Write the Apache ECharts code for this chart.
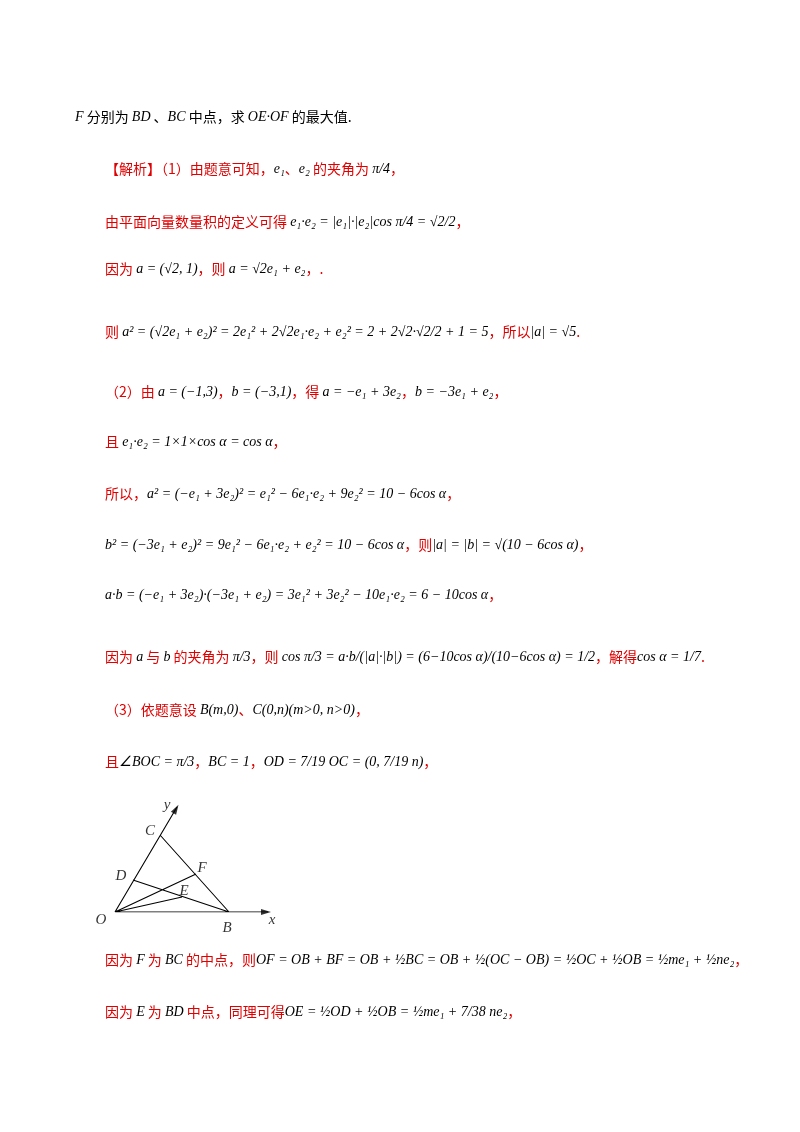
<!DOCTYPE html>
<html><head><meta charset="utf-8">
<script src="https://cdn.jsdelivr.net/npm/echarts@6/dist/echarts.min.js"></script>
<style>html,body{margin:0;background:#fff}#c{width:800px;height:1132px}</style>
</head><body><div id="c"></div>
<script>
// Geometry figure points (pixel-like units relative to O, y up)
const pointNames = ['O','B','C','D','E','F'];
const pointX = [0, 114, 45, 18, 67, 81];
const pointY = [0, 0, 77, 32, 15, 38];
const segments = [['C','B'],['D','B'],['O','F'],['O','E']];
const axisTip = {x:[153,0], y:[62,105]};

const lines = [
 [75,120,"{m|F}{r| 分别为 }{m|BD}{r| 、}{m|BC}{r| 中点，求 }{m|OE·OF}{r| 的最大值.}", true],
 [105,172,"{r|【解析】（1）由题意可知，}{m|e₁}{r|、}{m|e₂}{r| 的夹角为 }{m|π/4}{r|，}"],
 [105,225,"{r|由平面向量数量积的定义可得 }{m|e₁·e₂ = |e₁|·|e₂|cos π/4 = √2/2}{r|，}"],
 [105,272,"{r|因为 }{m|a = (√2, 1)}{r|，则 }{m|a = √2e₁ + e₂}{r|，.}"],
 [105,335,"{r|则 }{m|a² = (√2e₁ + e₂)² = 2e₁² + 2√2e₁·e₂ + e₂² = 2 + 2√2·√2/2 + 1 = 5}{r|，所以}{m||a| = √5}{r|.}"],
 [105,395,"{r|（2）由 }{m|a = (−1,3)}{r|，}{m|b = (−3,1)}{r|，得 }{m|a = −e₁ + 3e₂}{r|，}{m|b = −3e₁ + e₂}{r|，}"],
 [105,445,"{r|且 }{m|e₁·e₂ = 1×1×cos α = cos α}{r|，}"],
 [105,497,"{r|所以，}{m|a² = (−e₁ + 3e₂)² = e₁² − 6e₁·e₂ + 9e₂² = 10 − 6cos α}{r|，}"],
 [105,548,"{m|b² = (−3e₁ + e₂)² = 9e₁² − 6e₁·e₂ + e₂² = 10 − 6cos α}{r|，则}{m||a| = |b| = √(10 − 6cos α)}{r|，}"],
 [105,598,"{m|a·b = (−e₁ + 3e₂)·(−3e₁ + e₂) = 3e₁² + 3e₂² − 10e₁·e₂ = 6 − 10cos α}{r|，}"],
 [105,660,"{r|因为 }{m|a}{r| 与 }{m|b}{r| 的夹角为 }{m|π/3}{r|，则 }{m|cos π/3 = a·b/(|a|·|b|) = (6−10cos α)/(10−6cos α) = 1/2}{r|，解得}{m|cos α = 1/7}{r|.}"],
 [105,713,"{r|（3）依题意设 }{m|B(m,0)}{r|、}{m|C(0,n)(m>0, n>0)}{r|，}"],
 [105,765,"{r|且}{m|∠BOC = π/3}{r|，}{m|BC = 1}{r|，}{m|OD = 7/19 OC = (0, 7/19 n)}{r|，}"],
 [105,963,"{r|因为 }{m|F}{r| 为 }{m|BC}{r| 的中点，则}{m|OF = OB + BF = OB + ½BC = OB + ½(OC − OB) = ½OC + ½OB = ½me₁ + ½ne₂}{r|，}"],
 [105,1015,"{r|因为 }{m|E}{r| 为 }{m|BD}{r| 中点，同理可得}{m|OE = ½OD + ½OB = ½me₁ + 7/38 ne₂}{r|，}"]
];

const idx = n => pointNames.indexOf(n);
const segData = [];
segments.forEach(s => {
  segData.push([pointX[idx(s[0])], pointY[idx(s[0])]]);
  segData.push([pointX[idx(s[1])], pointY[idx(s[1])]]);
  segData.push(null);
});
segData.push([0,0],[axisTip.x[0],axisTip.x[1]],null,[0,0],[axisTip.y[0],axisTip.y[1]]);

const labelOff = {O:[-14,8],B:[-2,16],C:[-10,-4],D:[-12,-4],E:[2,-6],F:[6,-6]};

const chart = echarts.init(document.getElementById('c'));
chart.setOption({
  backgroundColor:'#fff',
  animation:false,
  grid:{left:115, width:160, top:802, height:110},
  xAxis:{type:'value', min:0, max:160, show:false},
  yAxis:{type:'value', min:0, max:110, show:false},
  series:[
    {type:'line', data:segData, connectNulls:false, symbol:'none',
     lineStyle:{color:'#000', width:1.1}},
    {type:'scatter', symbolSize:0, data:pointNames.map((n,i)=>({value:[pointX[i],pointY[i]], name:n})),
     label:{show:true, formatter:p=>p.name, fontFamily:'Liberation Serif', fontStyle:'italic', fontSize:15, color:'#000',
       position:'inside'},
     labelLayout:p=>{const o=labelOff[pointNames[p.dataIndex]];return {dx:o[0],dy:o[1]};}},
    {type:'scatter', symbolSize:0, data:[{value:[axisTip.x[0],axisTip.x[1]],name:'x'},{value:[axisTip.y[0],axisTip.y[1]],name:'y'}],
     label:{show:true, formatter:p=>p.name, fontFamily:'Liberation Serif', fontStyle:'italic', fontSize:15, color:'#000', position:'inside'},
     labelLayout:p=>p.dataIndex===0?{dx:4,dy:8}:{dx:-10,dy:-2}},
    {type:'scatter', symbol:'triangle', symbolSize:[6,10], symbolRotate:-90, data:[[axisTip.x[0]-2,0]], itemStyle:{color:'#000'}},
    {type:'scatter', symbol:'triangle', symbolSize:[6,10], symbolRotate:-30, data:[[axisTip.y[0]-1,axisTip.y[1]-2]], itemStyle:{color:'#000'}}
  ],
  graphic: lines.map(l=>({type:'text', left:l[0], top:l[1]-10,
    style:{text:l[2], rich:{
      r:{fill:l[3]?'#000':'#e00000', fontFamily:'Noto Sans CJK SC', fontSize:14},
      m:{fill:'#000', fontFamily:'Liberation Serif', fontStyle:'italic', fontSize:14}
    }}}))
});
</script></body></html>
